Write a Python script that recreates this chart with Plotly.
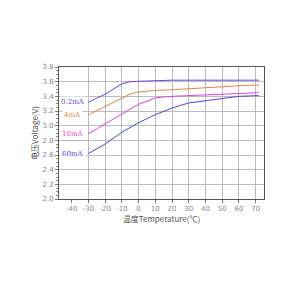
import plotly.graph_objects as go

temps_02 = [-30, -20, -10, -5, 0, 10, 20, 30, 40, 50, 60, 72]
volt_02 = [3.32, 3.43, 3.57, 3.60, 3.605, 3.615, 3.62, 3.62, 3.62, 3.62, 3.62, 3.62]

temps_4 = [-30, -20, -10, -5, 0, 5, 10, 20, 30, 40, 50, 60, 72]
volt_4 = [3.15, 3.26, 3.38, 3.43, 3.46, 3.475, 3.48, 3.49, 3.50, 3.515, 3.53, 3.545, 3.555]

temps_10 = [-30, -20, -10, 0, 5, 10, 20, 30, 40, 50, 60, 72]
volt_10 = [2.89, 3.03, 3.16, 3.29, 3.34, 3.38, 3.40, 3.41, 3.42, 3.43, 3.44, 3.45]

temps_60 = [-30, -20, -10, 0, 10, 20, 30, 40, 50, 60, 72]
volt_60 = [2.62, 2.75, 2.91, 3.04, 3.15, 3.24, 3.31, 3.34, 3.375, 3.40, 3.41]

series_names = ["0.2mA", "4mA", "10mA", "60mA"]
series_colors = ["#6a44d8", "#e0884a", "#dd44dd", "#4a4ad0"]
series_x = [temps_02, temps_4, temps_10, temps_60]
series_y = [volt_02, volt_4, volt_10, volt_60]

x_ticks = [-40, -30, -20, -10, 0, 10, 20, 30, 40, 50, 60, 70]
x_grid = [-30, -20, -10, 0, 10, 20, 30, 40, 50, 60, 70]
y_ticks = [2.0, 2.2, 2.4, 2.6, 2.8, 3.0, 3.2, 3.4, 3.6, 3.8]

fig = go.Figure()
for name, col, xs, ys in zip(series_names, series_colors, series_x, series_y):
    fig.add_trace(go.Scatter(x=xs, y=ys, mode="lines", name=name,
                             line=dict(color=col, width=1), showlegend=False))
    fig.add_annotation(x=-39.3, y=ys[0], text=name, showarrow=False,
                       font=dict(size=7, color=col, family="DejaVu Serif"),
                       bgcolor="white", xanchor="center", yanchor="middle")

tickfont = dict(size=7, color="#888888", family="DejaVu Sans")
fig.update_xaxes(range=[-47.6, 75], tickvals=x_ticks, ticktext=[str(v) for v in x_ticks],
                 showgrid=False, zeroline=False,
                 showline=True, linecolor="#555555", mirror=True, linewidth=1,
                 ticks="outside", ticklen=3, tickcolor="#777777", tickfont=tickfont,
                 minor=dict(tickvals=x_grid, showgrid=True, gridcolor="#bbbbbb", gridwidth=1,
                            ticks=""),
                 title=dict(text="温度Temperature(℃)", font=dict(size=8, color="#555555",
                            family="Noto Sans CJK SC"), standoff=3))
fig.update_yaxes(range=[2.0, 3.8], tickvals=y_ticks, ticktext=["%.1f" % v for v in y_ticks],
                 showgrid=True, gridcolor="#bbbbbb", gridwidth=1, zeroline=False,
                 showline=True, linecolor="#555555", mirror=True, linewidth=1,
                 ticks="outside", ticklen=3, tickcolor="#777777", tickfont=tickfont,
                 minor=dict(dtick=0.05, ticks="outside", ticklen=2, tickcolor="#888888", showgrid=False),
                 title=dict(text="电压Voltage(V)", font=dict(size=8, color="#555555",
                            family="Noto Sans CJK SC"), standoff=2))

fig.update_layout(width=300, height=300, margin=dict(l=59, r=36, t=67, b=101),
                  paper_bgcolor="white", plot_bgcolor="white")
fig.write_html("out.html")
